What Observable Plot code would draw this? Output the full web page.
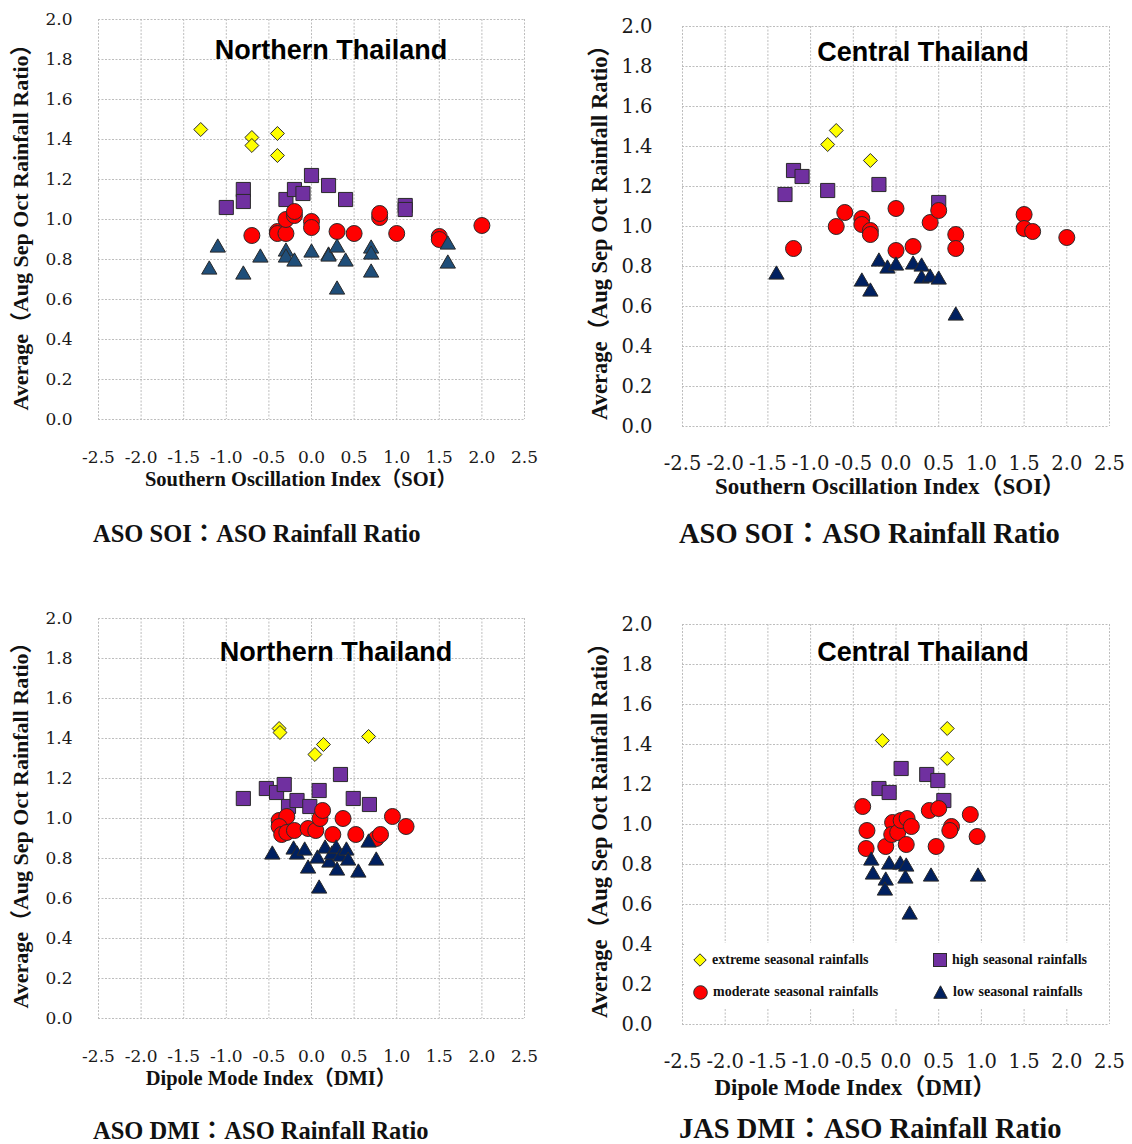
<!DOCTYPE html>
<html><head><meta charset="utf-8">
<script src="https://cdn.jsdelivr.net/npm/d3@7"></script>
<script src="https://cdn.jsdelivr.net/npm/@observablehq/plot@0.6"></script>
<style>
body{margin:0;background:#fff;}
#root{position:relative;width:1132px;height:1144px;overflow:hidden;background:#fff;}
.abs{position:absolute;white-space:nowrap;line-height:1;}
svg.plot{position:absolute;overflow:visible;}
svg.plot text{font-family:"DejaVu Serif",serif !important;fill:#1a1a1a;}
svg.p17 text{font-size:17px !important;}
svg.p19 text{font-size:19.5px !important;}
.title{font-family:"Liberation Sans",Arial,sans-serif;font-weight:bold;color:#000;transform:translate(-50%,-50%);}
.sb{font-family:"Liberation Serif","Times New Roman","Noto Sans CJK JP",serif;font-weight:bold;color:#111;}
.xt{transform:translate(-50%,-50%);}
.cap{transform:translate(0,-50%);}
.yt{transform:translate(-50%,-50%) rotate(-90deg);}
.leg{position:absolute;background:#fff;}
.legitem{position:absolute;display:flex;align-items:center;font-family:"Liberation Serif","Times New Roman",serif;font-weight:bold;font-size:14px;word-spacing:1px;color:#111;transform:translate(0,-50%);}
.legitem svg{margin-right:5px;}
</style></head><body><div id="root"></div>
<script>
// ---- shared tick values ----
const xTicks = [-2.5,-2.0,-1.5,-1.0,-0.5,0.0,0.5,1.0,1.5,2.0,2.5];
const yTicks = [0.0,0.2,0.4,0.6,0.8,1.0,1.2,1.4,1.6,1.8,2.0];
const categories = ["extreme seasonal rainfalls","high seasonal rainfalls","moderate seasonal rainfalls","low seasonal rainfalls"];

// ---- Northern Thailand, ASO SOI ----
const nSoiExtreme = [[-1.3,1.45],[-0.7,1.41],[-0.7,1.37],[-0.4,1.43],[-0.4,1.32]];
const nSoiHigh = [[-1.0,1.06],[-0.8,1.15],[-0.8,1.09],[-0.3,1.10],[-0.2,1.15],[-0.1,1.13],[0.0,1.22],[0.2,1.17],[0.4,1.10],[1.1,1.07],[1.1,1.05]];
const nSoiModerate = [[-0.7,0.92],[-0.4,0.94],[-0.4,0.93],[-0.3,0.93],[-0.3,1.00],[-0.2,1.02],[-0.2,1.04],[0.0,0.99],[0.0,0.96],[0.3,0.94],[0.5,0.93],[0.8,1.01],[0.8,1.03],[1.0,0.93],[1.5,0.915],[1.5,0.90],[2.0,0.97]];
const nSoiLow = [[-1.1,0.87],[-1.2,0.76],[-0.8,0.735],[-0.6,0.82],[-0.3,0.85],[-0.3,0.82],[-0.2,0.80],[0.0,0.845],[0.2,0.83],[0.2,0.825],[0.3,0.87],[0.3,0.66],[0.4,0.80],[0.7,0.865],[0.7,0.835],[0.7,0.745],[1.6,0.885],[1.6,0.79]];

// ---- Central Thailand, ASO SOI ----
const cSoiExtreme = [[-0.7,1.48],[-0.8,1.41],[-0.3,1.33]];
const cSoiHigh = [[-1.2,1.28],[-1.1,1.25],[-1.3,1.16],[-0.8,1.18],[-0.2,1.21],[0.5,1.12]];
const cSoiModerate = [[-1.2,0.89],[-0.6,1.07],[-0.7,1.00],[-0.4,1.04],[-0.4,1.01],[-0.3,0.98],[-0.3,0.96],[0.0,1.09],[0.0,0.88],[0.2,0.90],[0.4,1.02],[0.5,1.08],[0.7,0.96],[0.7,0.89],[1.5,1.06],[1.5,0.99],[1.6,0.975],[2.0,0.945]];
const cSoiLow = [[-1.4,0.77],[-0.4,0.735],[-0.3,0.685],[-0.2,0.835],[-0.1,0.80],[0.0,0.815],[0.2,0.82],[0.3,0.81],[0.3,0.75],[0.4,0.755],[0.5,0.745],[0.7,0.565]];

// ---- Northern Thailand, ASO DMI ----
const nDmiExtreme = [[-0.38,1.45],[-0.37,1.43],[0.04,1.32],[0.14,1.37],[0.67,1.41]];
const nDmiHigh = [[-0.80,1.10],[-0.53,1.15],[-0.41,1.13],[-0.32,1.17],[-0.27,1.06],[-0.17,1.09],[-0.02,1.06],[0.09,1.14],[0.34,1.22],[0.49,1.10],[0.68,1.07]];
const nDmiModerate = [[-0.38,0.99],[-0.29,1.01],[-0.38,0.96],[-0.35,0.92],[-0.29,0.93],[-0.2,0.94],[-0.04,0.95],[0.05,0.94],[0.1,1.00],[0.13,1.04],[0.37,1.00],[0.25,0.92],[0.52,0.92],[0.76,0.90],[0.81,0.92],[0.95,1.01],[1.11,0.96]];
const nDmiLow = [[-0.46,0.83],[-0.21,0.855],[-0.17,0.83],[-0.08,0.85],[-0.04,0.76],[0.07,0.81],[0.09,0.66],[0.16,0.86],[0.21,0.79],[0.24,0.83],[0.29,0.86],[0.30,0.75],[0.34,0.82],[0.41,0.85],[0.43,0.80],[0.55,0.74],[0.67,0.89],[0.76,0.80]];

// ---- Central Thailand, JAS DMI ----
const cDmiExtreme = [[-0.16,1.42],[0.6,1.48],[0.6,1.33]];
const cDmiHigh = [[-0.2,1.18],[-0.08,1.16],[0.06,1.28],[0.36,1.25],[0.49,1.22],[0.56,1.12]];
const cDmiModerate = [[-0.39,1.09],[-0.34,0.97],[-0.35,0.88],[-0.12,0.89],[-0.04,1.01],[-0.05,0.95],[0.02,0.96],[0.06,1.02],[0.13,1.03],[0.18,0.99],[0.12,0.90],[0.39,1.07],[0.5,1.08],[0.47,0.89],[0.65,0.99],[0.63,0.97],[0.87,1.05],[0.95,0.94]];
const cDmiLow = [[-0.29,0.83],[-0.27,0.76],[-0.12,0.73],[-0.13,0.68],[-0.08,0.81],[0.05,0.81],[0.12,0.80],[0.11,0.74],[0.16,0.56],[0.41,0.75],[0.96,0.75]];

// ---- texts ----
const panelTitles = ["Northern Thailand","Central Thailand","Northern Thailand","Central Thailand"];
const xTitles = ["Southern Oscillation Index（SOI）","Southern Oscillation Index（SOI）","Dipole Mode Index（DMI）","Dipole Mode Index（DMI）"];
const captions = ["ASO SOI：ASO Rainfall Ratio","ASO SOI：ASO Rainfall Ratio","ASO DMI：ASO Rainfall Ratio","JAS DMI：ASO Rainfall Ratio"];
const yTitle = "Average（Aug Sep Oct Rainfall Ratio）";

const colors = {extreme:"#FFFF00", high:"#7030A0", moderate:"#FF0000", low1:"#1F4E79", low:"#002060"};

const panels = [
  {left:0, top:0, w:560, h:480, mL:98, mR:36, mT:19, mB:61, cls:"p17", padX:31, padY:26, lowColor:colors.low1,
   data:[nSoiExtreme,nSoiHigh,nSoiModerate,nSoiLow],
   title:[331,50,27], yt:[21,222,22], xt:[301,479,20.5], cap:[93,534,24.5]},
  {left:566, top:0, w:566, h:480, mL:116, mR:23, mT:26, mB:54, cls:"p19", padX:30, padY:30, lowColor:colors.low,
   data:[cSoiExtreme,cSoiHigh,cSoiModerate,cSoiLow],
   title:[923,52,27], yt:[600,227,22.5], xt:[890,486,23], cap:[679,534,28.5]},
  {left:0, top:590, w:560, h:480, mL:98, mR:36, mT:28, mB:52, cls:"p17", padX:31, padY:26, lowColor:colors.low,
   data:[nDmiExtreme,nDmiHigh,nDmiModerate,nDmiLow],
   title:[336,652,27], yt:[21,820,22], xt:[271,1078,20.5], cap:[93,1131,24.5]},
  {left:566, top:590, w:566, h:480, mL:116, mR:23, mT:34, mB:46, cls:"p19", padX:30, padY:30, lowColor:colors.low,
   data:[cDmiExtreme,cDmiHigh,cDmiModerate,cDmiLow],
   title:[923,652,27], yt:[600,825,22.5], xt:[855,1087,23], cap:[679,1129,28.5]}
];

const root = document.getElementById("root");
const fmt = d => d.toFixed(1);
const stroke = "#2a2a2a";

function addText(cls, txt, x, y, size){
  const el = document.createElement("div");
  el.className = "abs " + cls;
  el.textContent = txt;
  el.style.left = x + "px"; el.style.top = y + "px"; el.style.fontSize = size + "px";
  root.appendChild(el);
  return el;
}

panels.forEach((p, i) => {
  const [ext, high, mod, low] = p.data;
  const chart = Plot.plot({
    width: p.w, height: p.h,
    marginLeft: p.mL, marginRight: p.mR, marginTop: p.mT, marginBottom: p.mB,
    style: {background: "transparent", overflow: "visible"},
    x: {domain: [-2.5, 2.5], ticks: xTicks, tickFormat: fmt, tickSize: 0, tickPadding: p.padX, label: null},
    y: {domain: [0, 2], ticks: yTicks, tickFormat: fmt, tickSize: 0, tickPadding: p.padY, label: null},
    marks: [
      Plot.ruleX(xTicks, {x: d => d, stroke: "#bdbdbd", strokeWidth: 1, strokeDasharray: "2,1.5"}),
      Plot.ruleY(yTicks, {y: d => d, stroke: "#bdbdbd", strokeWidth: 1, strokeDasharray: "2,1.5"}),
      Plot.dot(ext, {x: d => d[0], y: d => d[1], symbol: "diamond2", r: 6.3, fill: colors.extreme, stroke, strokeWidth: 1}),
      Plot.dot(high, {x: d => d[0], y: d => d[1], symbol: "square2", r: 9, fill: colors.high, stroke, strokeWidth: 1}),
      Plot.dot(mod, {x: d => d[0], y: d => d[1], symbol: "circle", r: 8, fill: colors.moderate, stroke, strokeWidth: 1}),
      Plot.dot(low, {x: d => d[0], y: d => d[1], symbol: "triangle2", r: 7.3, dy: 2.2, fill: p.lowColor, stroke, strokeWidth: 1})
    ]
  });
  chart.classList.add("plot");
  chart.classList.add(p.cls);
  chart.style.left = p.left + "px";
  chart.style.top = p.top + "px";
  root.appendChild(chart);

  addText("title", panelTitles[i], p.title[0], p.title[1], p.title[2]);
  addText("sb yt", yTitle, p.yt[0], p.yt[1], p.yt[2]);
  addText("sb xt", xTitles[i], p.xt[0], p.xt[1], p.xt[2]);
  addText("sb cap", captions[i], p.cap[0], p.cap[1], p.cap[2]);
});

// ---- legend (panel 4) ----
const leg = document.createElement("div");
leg.className = "leg";
Object.assign(leg.style, {left: "684px", top: "943px", width: "423px", height: "66px"});
root.appendChild(leg);
const legSyms = [
  `<svg width="14" height="14"><path d="M7,0.8L13.2,7L7,13.2L0.8,7Z" fill="${colors.extreme}" stroke="${stroke}"/></svg>`,
  `<svg width="14" height="14"><rect x="0.5" y="0.5" width="13" height="13" fill="${colors.high}" stroke="${stroke}"/></svg>`,
  `<svg width="15" height="15"><circle cx="7.5" cy="7.5" r="6.8" fill="${colors.moderate}" stroke="${stroke}"/></svg>`,
  `<svg width="15" height="14"><path d="M7.5,0.8L14.2,13.3L0.8,13.3Z" fill="${colors.low}" stroke="${stroke}"/></svg>`
];
const legPos = [[693,960],[933,960],[693,992],[933,992]];
categories.forEach((c, k) => {
  const it = document.createElement("div");
  it.className = "legitem";
  it.style.left = legPos[k][0] + "px"; it.style.top = legPos[k][1] + "px";
  it.innerHTML = legSyms[k] + "<span>" + c + "</span>";
  root.appendChild(it);
});
</script></body></html>
